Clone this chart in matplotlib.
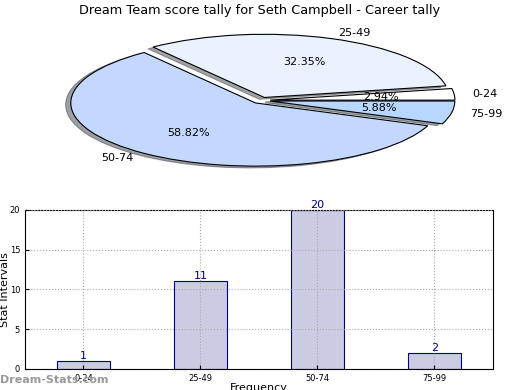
import matplotlib.pyplot as plt

# datos del grafico
intervalos = ['0-24', '25-49', '50-74', '75-99']
frecuencias = [1, 11, 20, 2]
colores_pie = ['#ffffff', '#eaf2ff', '#c4d8ff', '#b8d7ff']
titulo = "Dream Team score tally for Seth Campbell - Career tally"

fig = plt.figure(figsize=(5.2, 3.9), dpi=100)

# pastel (elipse, aspecto libre)
ax_pie = fig.add_axes([0.058, 0.54, 0.888, 0.405])
ax_pie.pie(frecuencias, labels=intervalos, colors=colores_pie,
           explode=[0.05, 0.05, 0.05, 0.05], shadow=True, autopct='%1.2f%%',
           wedgeprops={'edgecolor': 'black', 'linewidth': 0.8},
           textprops={'fontsize': 8})
ax_pie.set_aspect('auto')
ax_pie.set_xlim(-1.25, 1.25)
ax_pie.set_ylim(-1.25, 1.25)
fig.text(0.5, 0.974, titulo, ha='center', va='center', fontsize=9.3)

# barras
ax_bar = fig.add_axes([0.048, 0.054, 0.9, 0.408])
posiciones = range(len(intervalos))
barras = ax_bar.bar(posiciones, frecuencias, width=0.45, color='#cbcce3',
                    edgecolor='navy', linewidth=0.8, zorder=2)
for b, v in zip(barras, frecuencias):
    ax_bar.text(b.get_x() + b.get_width() / 2, v, str(v), ha='center',
                va='bottom', color='navy', fontsize=8)
ax_bar.set_xlim(-0.5, 3.5)
ax_bar.set_ylim(0, 20)
ax_bar.set_yticks([0, 5, 10, 15, 20])
ax_bar.set_xticks(list(posiciones))
ax_bar.set_xticklabels(intervalos)
ax_bar.tick_params(labelsize=6, direction='in', length=3)
ax_bar.grid(True, linestyle=':', color='#aaaaaa', linewidth=0.8, zorder=0)
ax_bar.set_axisbelow(False)
ax_bar.set_ylabel('Stat Intervals', fontsize=8)
ax_bar.yaxis.set_label_coords(-0.031, 0.5)
ax_bar.set_xlabel('Frequency', fontsize=8, labelpad=0)

fig.text(0.0, 0.025, 'Dream-Stats.com', color='#999999', fontsize=8,
         fontweight='bold', ha='left', va='center')

fig.savefig('out.png', dpi=100)
